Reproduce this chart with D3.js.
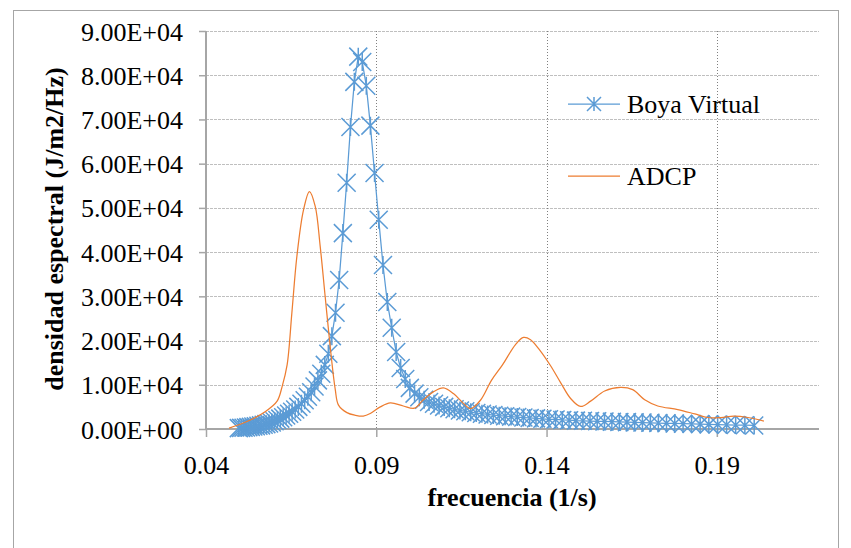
<!DOCTYPE html>
<html><head><meta charset="utf-8">
<script src="https://cdn.jsdelivr.net/npm/d3@7/dist/d3.min.js"></script>
<style>body{margin:0;background:#fff}svg{display:block}</style>
</head><body><svg id="c" width="851" height="548"></svg>
<script>
const boyaFreq = [0.04964,0.05033,0.05102,0.05173,0.05244,0.05316,0.05390,0.05464,0.05539,0.05616,
0.05693,0.05772,0.05851,0.05932,0.06014,0.06097,0.06181,0.06266,0.06353,0.06440,
0.06529,0.06619,0.06711,0.06803,0.06897,0.06992,0.07089,0.07187,0.07286,0.07386,
0.07488,0.07592,0.07696,0.07803,0.07910,0.08019,0.08130,0.08242,0.08356,0.08471,
0.08588,0.08707,0.08827,0.08949,0.09072,0.09197,0.09324,0.09453,0.09584,0.09716,
0.09850,0.09986,0.10124,0.10264,0.10406,0.10550,0.10696,0.10844,0.10994,0.11146,
0.11300,0.11456,0.11614,0.11774,0.11937,0.12102,0.12269,0.12438,0.12610,0.12784,
0.12960,0.13139,0.13320,0.13504,0.13690,0.13879,0.14070,0.14264,0.14461,0.14661,
0.14863,0.15068,0.15276,0.15487,0.15701,0.15918,0.16138,0.16361,0.16587,0.16816,
0.17048,0.17283,0.17522,0.17764,0.18009,0.18258,0.18510,0.18765,0.19024,0.19287,
0.19553,0.19823,0.20097];
const boyaDens = [200,250,300,360,420,480,550,630,720,820,
950,1100,1250,1450,1750,2050,2350,2650,3050,3450,
3900,4400,5000,5700,6500,7300,8300,9600,11000,12500,
14500,17000,21000,26300,33700,44300,55700,68300,78500,84200,
83000,77600,68600,57900,47300,37100,28700,22900,17400,13800,
11300,9300,8000,7200,6600,6100,5700,5300,5000,4700,
4450,4200,4000,3800,3600,3450,3300,3150,3000,2900,
2800,2700,2600,2500,2400,2300,2200,2150,2050,2000,
1900,1850,1800,1750,1700,1650,1600,1550,1500,1450,
1400,1350,1300,1250,1200,1150,1100,1050,1000,950,
900,850,800];
const adcpFreq = [0.04676,0.05235,0.05735,0.06088,0.06235,0.06382,0.06521,0.06668,0.06862,0.07038,
0.07206,0.07353,0.07500,0.07647,0.07794,0.07891,0.08138,0.08382,0.08618,0.08824,
0.09118,0.09412,0.09794,0.10118,0.10382,0.10676,0.10971,0.11265,0.11559,0.11765,
0.12059,0.12382,0.12706,0.13088,0.13324,0.13529,0.13794,0.14118,0.14412,0.14706,
0.15000,0.15294,0.15706,0.16176,0.16529,0.16882,0.17265,0.17853,0.18353,0.18735,
0.19118,0.19500,0.19912,0.20382];
const adcpDens = [200,1800,3900,6300,9600,14500,26200,39000,49500,53700,
50400,41300,29900,18600,9000,5400,3700,3100,2900,3500,
5000,5900,5200,4700,6600,8400,9300,8000,5800,4600,
6500,11000,14500,19100,20700,20200,17900,14300,10500,6900,
5100,6300,8600,9400,8900,6600,5200,4400,3400,2600,
2600,2900,2600,1800];
const xTicks = [0.04,0.09,0.14,0.19];
const xTickLabels = ["0.04","0.09","0.14","0.19"];
const yTicks = [0,10000,20000,30000,40000,50000,60000,70000,80000,90000];
const yTickLabels = ["0.00E+00","1.00E+04","2.00E+04","3.00E+04","4.00E+04","5.00E+04","6.00E+04","7.00E+04","8.00E+04","9.00E+04"];
const seriesNames = ["Boya Virtual","ADCP"];
const xTitle = "frecuencia (1/s)";
const yTitle = "densidad espectral (J/m2/Hz)";

const BLUE = "#5B9BD5", ORANGE = "#ED7D31";
const FONT = "'Liberation Serif','Times New Roman',serif";
const svg = d3.select("#c");
const L = 206, R = 819, T = 31, B = 429;
const x = d3.scaleLinear().domain([0.04, 0.22]).range([L, R]);
const y = d3.scaleLinear().domain([0, 90000]).range([B, T]);

// chart border
svg.append("rect").attr("x",13.5).attr("y",10.5).attr("width",825).attr("height",545)
  .attr("fill","none").attr("stroke","#a6a6a6").attr("stroke-width",1);

// horizontal gridlines
svg.append("g").selectAll("line").data(yTicks.filter(d=>d>0)).join("line")
  .attr("x1",L).attr("x2",R).attr("y1",d=>Math.round(y(d))+0.5).attr("y2",d=>Math.round(y(d))+0.5)
  .attr("stroke","#bfbfbf").attr("stroke-width",1).attr("stroke-dasharray","3,1");
// vertical gridlines
svg.append("g").selectAll("line").data(xTicks.filter(d=>d>0.04)).join("line")
  .attr("x1",d=>Math.round(x(d))+0.5).attr("x2",d=>Math.round(x(d))+0.5).attr("y1",T).attr("y2",B)
  .attr("stroke","#808080").attr("stroke-width",1).attr("stroke-dasharray","1,2");

// axes
const yAxis = d3.axisLeft(y).tickValues(yTicks).tickFormat((d,i)=>yTickLabels[i]).tickSize(7).tickPadding(16);
const gy = svg.append("g").attr("transform",`translate(${L},0)`).call(yAxis);
const xAxis = d3.axisBottom(x).tickValues(xTicks).tickFormat((d,i)=>xTickLabels[i]).tickSize(8).tickPadding(14);
const gx = svg.append("g").attr("transform",`translate(0,${B})`).call(xAxis);
[gx,gy].forEach(g=>{
  g.select(".domain").remove();
  g.selectAll(".tick line").attr("stroke","#a6a6a6").attr("stroke-width",1.5);
  g.selectAll("text").attr("font-family",FONT).attr("font-size",26).attr("fill","#000");
});
gy.selectAll("text").attr("dy","0.35em");
gx.selectAll("text").attr("dy","0.9em");
svg.append("line").attr("x1",L).attr("x2",L).attr("y1",T).attr("y2",B+1)
  .attr("stroke","#a6a6a6").attr("stroke-width",2);
svg.append("line").attr("x1",L).attr("x2",R).attr("y1",B).attr("y2",B)
  .attr("stroke","#a6a6a6").attr("stroke-width",2);

// Boya Virtual series
const boya = boyaFreq.map((f,i)=>[f,boyaDens[i]]);
svg.append("path").datum(boya)
  .attr("d", d3.line().x(d=>x(d[0])).y(d=>y(d[1])))
  .attr("fill","none").attr("stroke",BLUE).attr("stroke-width",1.25);
const star = s => `M${-s},${-s}L${s},${s}M${-s},${s}L${s},${-s}M0,${-s}V${s}`;
svg.append("g").selectAll("path").data(boya).join("path")
  .attr("transform",d=>`translate(${x(d[0])},${y(d[1])})`)
  .attr("d",star(9)).attr("fill","none").attr("stroke",BLUE).attr("stroke-width",1.5);

// ADCP series
const adcp = adcpFreq.map((f,i)=>[f,adcpDens[i]]);
svg.append("path").datum(adcp)
  .attr("d", d3.line().curve(d3.curveCatmullRom.alpha(0.5)).x(d=>x(d[0])).y(d=>y(d[1])))
  .attr("fill","none").attr("stroke",ORANGE).attr("stroke-width",1.25);

// legend
const lg = svg.append("g");
lg.append("line").attr("x1",568).attr("x2",620).attr("y1",104).attr("y2",104).attr("stroke",BLUE).attr("stroke-width",1.25);
lg.append("path").attr("transform","translate(594,104)").attr("d",star(7)).attr("fill","none").attr("stroke",BLUE).attr("stroke-width",1.5);
lg.append("text").attr("x",627).attr("y",104).attr("dy","0.35em").text(seriesNames[0])
  .attr("font-family",FONT).attr("font-size",26).attr("fill","#000");
lg.append("line").attr("x1",568).attr("x2",620).attr("y1",176).attr("y2",176).attr("stroke",ORANGE).attr("stroke-width",1.25);
lg.append("text").attr("x",627).attr("y",176).attr("dy","0.35em").text(seriesNames[1])
  .attr("font-family",FONT).attr("font-size",26).attr("fill","#000");

// axis titles
svg.append("text").attr("x",512).attr("y",506).attr("text-anchor","middle")
  .attr("font-family",FONT).attr("font-size",26).attr("font-weight","bold").text(xTitle);
svg.append("text").attr("transform","translate(63,229) rotate(-90)").attr("text-anchor","middle")
  .attr("font-family",FONT).attr("font-size",26).attr("font-weight","bold").text(yTitle);
</script></body></html>
